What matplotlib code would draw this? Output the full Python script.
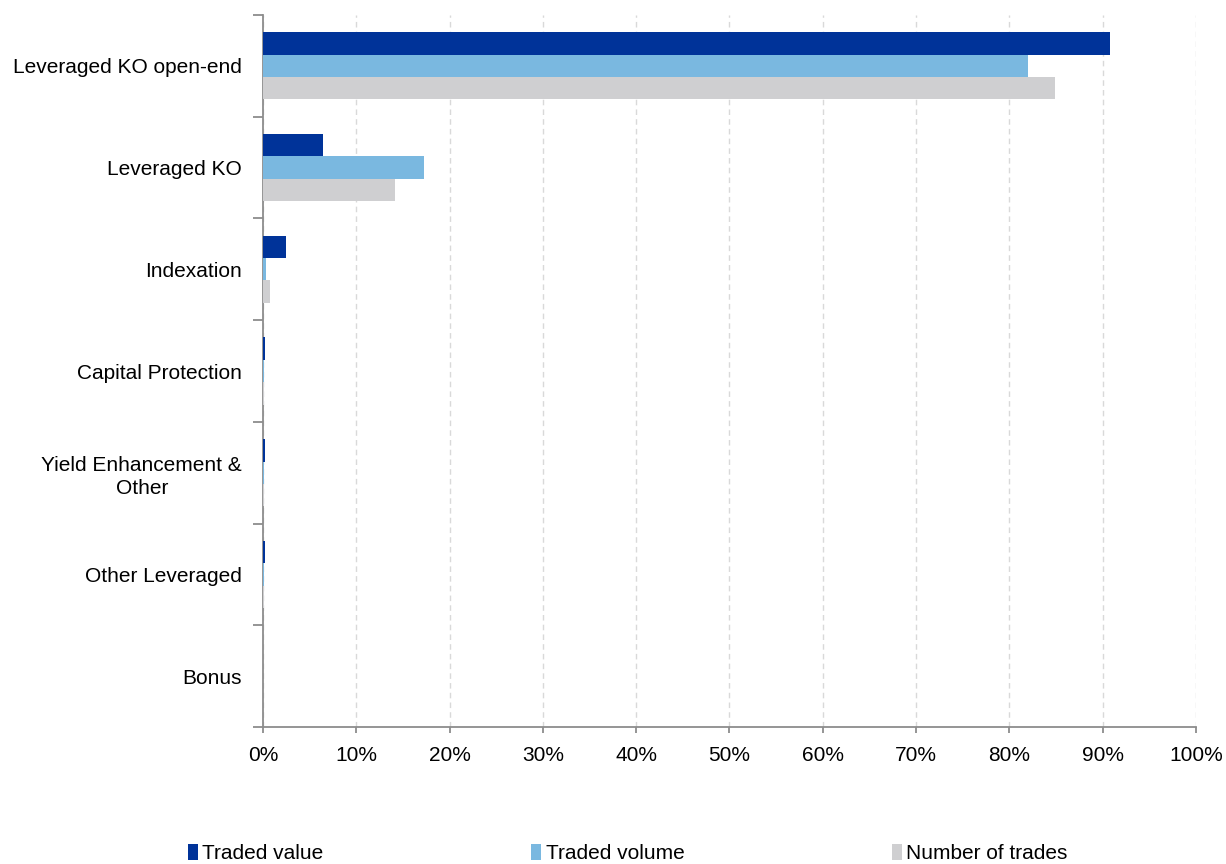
import matplotlib
matplotlib.use("Agg")
import matplotlib.pyplot as plt
import numpy as np
from matplotlib.ticker import FixedLocator, PercentFormatter

plt.rcParams["font.family"] = ["Liberation Sans", "DejaVu Sans"]

categories = [
    "Leveraged KO open-end",
    "Leveraged KO",
    "Indexation",
    "Capital Protection",
    "Yield Enhancement &\nOther",
    "Other Leveraged",
    "Bonus",
]
traded_value = [90.8, 6.4, 2.5, 0.2, 0.2, 0.2, 0.0]
traded_volume = [82.0, 17.3, 0.3, 0.1, 0.1, 0.1, 0.0]
number_of_trades = [84.9, 14.1, 0.8, 0.1, 0.1, 0.1, 0.0]

series = [
    ("Traded value", traded_value, "#003399"),
    ("Traded volume", traded_volume, "#7ab8e0"),
    ("Number of trades", number_of_trades, "#cfcfd1"),
]

fig = plt.figure(figsize=(12.26, 8.64), dpi=100)
ax = fig.add_axes([0.2145, 0.1586, 0.761, 0.824])

y = np.arange(len(categories))
h = 0.22
for i, (name, vals, col) in enumerate(series):
    ax.barh(y + (i - 1) * h, vals, height=h, color=col, label=name, zorder=3)

ax.set_xlim(0, 100)
ax.set_ylim(len(categories) - 0.5, -0.5)
ax.xaxis.set_major_locator(FixedLocator(np.arange(0, 101, 10)))
ax.xaxis.set_major_formatter(PercentFormatter(decimals=0))
ax.grid(axis="x", color="#d9d9d9", linestyle=(0, (4, 3)), linewidth=1, zorder=0)

ax.set_yticks(y)
ax.set_yticklabels(categories, multialignment="center", linespacing=1.3)
ax.yaxis.set_minor_locator(FixedLocator(np.arange(-0.5, len(categories), 1.0)))
ax.tick_params(axis="y", which="major", length=0, pad=15, labelsize=15)
ax.tick_params(axis="y", which="minor", length=7, color="#8c8c8c", width=1.3)
ax.tick_params(axis="x", length=4, color="#8c8c8c", width=1.3, pad=10, labelsize=15)

for s in ["top", "right"]:
    ax.spines[s].set_visible(False)
for s in ["left", "bottom"]:
    ax.spines[s].set_color("#8c8c8c")
    ax.spines[s].set_linewidth(1.3)

handles, labels = ax.get_legend_handles_labels()
fig.legend(handles, labels, loc="lower center", bbox_to_anchor=(0.512, -0.021),
           ncol=3, frameon=False, fontsize=15, handlelength=0.5, handleheight=0.75,
           handletextpad=0.2, columnspacing=9.95)

fig.savefig("out.png", dpi=100)
